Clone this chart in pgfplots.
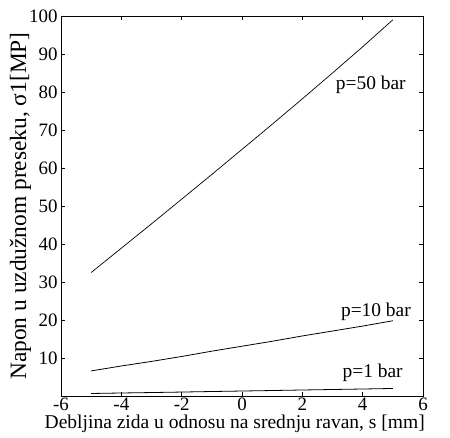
\documentclass[border=0pt]{standalone}
\usepackage{fontspec}
\setmainfont{Liberation Serif}
\usepackage{pgfplots}
\pgfplotsset{compat=1.18}
\begin{document}
\begin{tikzpicture}
\useasboundingbox (-61bp,-42bp) rectangle (389bp,396bp);
\begin{axis}[
  at={(0,0)}, anchor=south west,
  scale only axis, width=362bp, height=380bp,
  xmin=-6, xmax=6, ymin=0, ymax=100,
  xtick={-6,-4,...,6}, ytick={10,20,...,100},
  tick align=inside, major tick length=4bp,
  tick style={black, line width=0.6pt},
  axis line style={black, line width=0.8pt},
  font=\fontsize{19}{22}\selectfont,
  /pgf/number format/assume math mode=true,
  xticklabel style={inner sep=2bp},
  xlabel={Debljina zida u odnosu na srednju ravan, s [mm]},
  ylabel={Napon u uzdužnom preseku, σ1[MP]},
  xlabel style={at={(axis description cs:0.48,0)}, anchor=center, yshift=-28bp,
    inner sep=0pt, font=\fontsize{19.6}{21}\selectfont},
  ylabel style={at={(axis description cs:-0.112,0.5)}, anchor=center,
    inner sep=0pt, font=\fontsize{23.5}{26}\selectfont},
  clip=false,
]
\addplot[black, line width=0.7pt] coordinates {
(-5,32.5) (-4,38.9) (-3,45.3) (-2,51.8) (-1,58.3) (0,64.9) (1,71.5) (2,78.2) (3,85.0) (4,91.9) (5,99.0)};
\addplot[black, line width=0.8pt] coordinates {
(-5,6.6) (-4,7.9) (-3,9.1) (-2,10.4) (-1,11.8) (0,13.1) (1,14.4) (2,15.8) (3,17.1) (4,18.4) (5,19.8)};
\addplot[black, line width=0.8pt] coordinates {
(-5,0.66) (-4,0.79) (-3,0.91) (-2,1.04) (-1,1.18) (0,1.31) (1,1.44) (2,1.58) (3,1.71) (4,1.84) (5,1.98)};
\node[font=\fontsize{19.5}{22}\selectfont] at (axis cs:4.27,81.8) {p=50 bar};
\node[font=\fontsize{19.5}{22}\selectfont] at (axis cs:4.44,22.2) {p=10 bar};
\node[font=\fontsize{19.5}{22}\selectfont] at (axis cs:4.33,6.0) {p=1 bar};
\end{axis}
\end{tikzpicture}
\end{document}
